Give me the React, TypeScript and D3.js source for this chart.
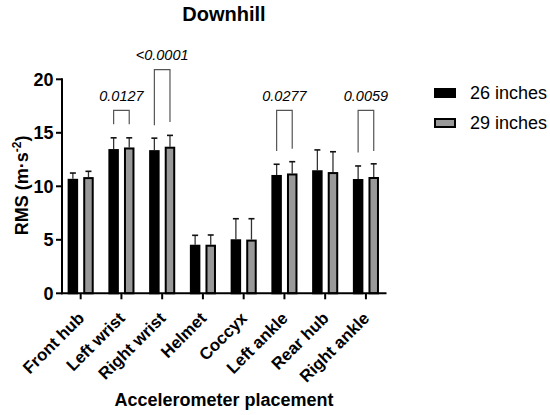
import * as d3 from 'd3';

const categories = ['Front hub', 'Left wrist', 'Right wrist', 'Helmet', 'Coccyx', 'Left ankle', 'Rear hub', 'Right ankle'];
const series = ['26 inches', '29 inches'];
const mean26 = [10.7, 13.48, 13.38, 4.54, 5.05, 11.06, 11.5, 10.68];
const sd26 = [0.54, 1.05, 1.12, 0.88, 1.92, 1.0, 1.9, 1.22];
const mean29 = [10.86, 13.63, 13.7, 4.54, 5.02, 11.2, 11.33, 10.87];
const sd29 = [0.54, 0.9, 1.06, 0.91, 1.95, 1.1, 1.9, 1.23];
const yTicks = [0, 5, 10, 15, 20];

// significance brackets (in data units)
const bracketCats = ['Left wrist', 'Right wrist', 'Left ankle', 'Right ankle'];
const bracketTop = [17.1, 20.9, 17.1, 17.1];
const bracketLeftEnd = [15.8, 15.7, 13.3, 13.15];
const bracketRightEnd = [15.8, 16.0, 13.5, 13.3];
const pValues = ['0.0127', '<0.0001', '0.0277', '0.0059'];

const FONT = '"Liberation Sans", Arial, Helvetica, sans-serif';

export default function App() {
  const width = 550;
  const height = 415;

  const x = d3.scaleBand().domain(categories).range([60.3, 386.3]);
  const y = d3.scaleLinear().domain([0, 20]).range([293.3, 79.3]);

  const barW = 10.5;
  const offset = 7.8;
  const center = (c: string) => (x(c) as number) + x.bandwidth() / 2;

  const seriesData = [
    { name: series[0], mean: mean26, sd: sd26, fill: '#000', dx: -offset },
    { name: series[1], mean: mean29, sd: sd29, fill: '#999', dx: offset },
  ];

  return (
    <svg
      width={width}
      height={height}
      style={{ position: 'absolute', left: 0, top: 0, background: '#fff' }}
      fontFamily={FONT}
    >
      <text x={224} y={20.5} textAnchor="middle" fontSize={20} fontWeight="bold">
        Downhill
      </text>

      {/* bars */}
      {seriesData.map(s => (
        <g key={s.name}>
          {categories.map((c, i) => {
            const cx = center(c) + s.dx;
            const top = y(s.mean[i]);
            const errTop = y(s.mean[i] + s.sd[i]);
            return (
              <g key={c}>
                <line x1={cx} x2={cx} y1={top} y2={errTop} stroke="#333" strokeWidth={1.3} />
                <line x1={cx - 3} x2={cx + 3} y1={errTop} y2={errTop} stroke="#111" strokeWidth={1.6} />
                <rect
                  x={cx - barW / 2 + 1}
                  y={top + 1}
                  width={barW - 2}
                  height={y(0) - top - 1}
                  fill={s.fill}
                  stroke="#000"
                  strokeWidth={2}
                />
              </g>
            );
          })}
        </g>
      ))}

      {/* brackets */}
      {bracketCats.map((c, i) => {
        const xl = center(c) - offset;
        const xr = center(c) + offset;
        const yt = y(bracketTop[i]);
        return (
          <g key={c}>
            <path
              d={`M${xl},${y(bracketLeftEnd[i])}V${yt}H${xr}V${y(bracketRightEnd[i])}`}
              fill="none"
              stroke="#555"
              strokeWidth={1.2}
            />
            <text x={center(c)} y={yt - 9.5} textAnchor="middle" fontSize={14.5} fontStyle="italic">
              {pValues[i]}
            </text>
          </g>
        );
      })}

      {/* y axis */}
      <line x1={62} x2={62} y1={y(20) - 1} y2={y(0) + 1} stroke="#000" strokeWidth={2} />
      {yTicks.map(t => (
        <g key={t}>
          <line x1={56} x2={62} y1={y(t)} y2={y(t)} stroke="#000" strokeWidth={2} />
          <text x={53.5} y={y(t)} dy="0.36em" textAnchor="end" fontSize={18} fontWeight="bold">
            {t}
          </text>
        </g>
      ))}
      <text
        transform={`translate(28, ${(y(0) + y(20)) / 2 - 1}) rotate(-90)`}
        textAnchor="middle"
        fontSize={18}
        fontWeight="bold"
      >
        RMS (m·s
        <tspan fontSize={12} dy={-7}>-2</tspan>
        <tspan dy={7}>)</tspan>
      </text>

      {/* x axis */}
      <line x1={61} x2={386.5} y1={y(0)} y2={y(0)} stroke="#000" strokeWidth={2} />
      {categories.map(c => (
        <g key={c}>
          <line x1={center(c)} x2={center(c)} y1={y(0)} y2={y(0) + 6} stroke="#000" strokeWidth={2} />
          <text
            transform={`translate(${center(c) + 4.5}, ${y(0) + 26}) rotate(-45)`}
            textAnchor="end"
            fontSize={16.8}
            fontWeight="bold"
          >
            {c}
          </text>
        </g>
      ))}
      <text x={224} y={406} textAnchor="middle" fontSize={18} fontWeight="bold">
        Accelerometer placement
      </text>

      {/* legend */}
      {seriesData.map((s, i) => (
        <g key={s.name} transform={`translate(434, ${88 + i * 30})`}>
          <rect x={1} y={1} width={20} height={8} fill={s.fill} stroke="#000" strokeWidth={2} />
          <text x={36} y={10.5} fontSize={18}>
            {s.name}
          </text>
        </g>
      ))}
    </svg>
  );
}
